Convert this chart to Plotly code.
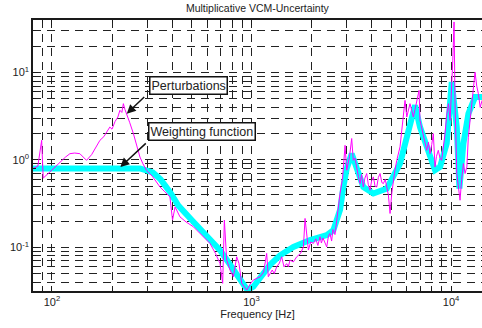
import math
import plotly.graph_objects as go

# Measured multiplicative uncertainty (perturbations), frequency in Hz
freq_pert = [80.5, 85, 88.8, 90.4, 97.7, 104, 110, 117, 123, 130, 138, 144, 149, 158, 166, 174,
             182, 188, 195, 200, 207, 214, 219, 224, 228, 232, 237, 245, 256, 265, 276, 286,
             298, 320, 348, 365, 390, 402, 414, 438, 470, 511, 560, 619, 660, 695, 717, 731,
             751, 780, 811, 843, 865, 893, 947, 985, 1021, 1060, 1103, 1150, 1191, 1214, 1270,
             1300, 1337, 1380, 1416, 1455, 1500, 1530, 1559, 1620, 1685, 1760, 1820, 1855, 1928,
             1980, 2043, 2100, 2150, 2205, 2240, 2280, 2330, 2382, 2430, 2473, 2520, 2560, 2620,
             2673, 2778, 2860, 2943, 3000, 3100, 3177, 3236, 3300, 3367, 3430, 3499, 3560, 3634,
             3700, 3777, 3850, 3925, 4000, 4080, 4160, 4243, 4320, 4408, 4500, 4581, 4680, 4762,
             4850, 4946, 5045, 5200, 5345, 5548, 5700, 5877, 5998, 6100, 6226, 6350, 6470, 6600,
             6730, 6913, 6990, 7262, 7400, 7550, 7700, 7850, 8000, 8150, 8310, 8450, 8630, 8800,
             8970, 9150, 9330, 9500, 9700, 9890, 10050, 10200, 10350, 10470, 10680, 10900,
             11090, 11300, 11530, 11750, 12000, 12200, 12450, 12800, 13190, 13450, 13700, 14000,
             14300]
mag_pert = [0.80, 0.85, 1.68, 0.62, 0.73, 0.84, 0.95, 1.08, 1.18, 1.20, 1.18, 1.08, 0.99, 1.15,
            1.40, 1.68, 1.85, 2.05, 2.38, 2.25, 2.75, 3.1, 3.70, 3.5, 4.41, 3.8, 3.39, 2.7, 2.00,
            1.55, 1.08, 0.90, 0.76, 0.64, 0.49, 0.44, 0.378, 0.205, 0.29, 0.223, 0.195, 0.172,
            0.14, 0.111, 0.085, 0.0655, 0.0387, 0.205, 0.0714, 0.055, 0.046, 0.078, 0.0655,
            0.0387, 0.0324, 0.038, 0.0422, 0.044, 0.046, 0.052, 0.0851, 0.046, 0.055,
            0.050, 0.0598, 0.066, 0.078, 0.0598, 0.065, 0.060, 0.0714, 0.068, 0.078, 0.085,
            0.101, 0.214, 0.093, 0.115, 0.111, 0.125, 0.105, 0.132, 0.112, 0.128, 0.115, 0.101,
            0.135, 0.144, 0.118, 0.16, 0.14, 0.205, 0.413, 0.62, 1.47, 0.763, 1.1, 1.76, 0.99,
            1.05, 0.763, 0.65, 0.537, 0.68, 0.491, 0.62, 0.70, 0.52, 0.45, 0.58, 0.64, 0.50,
            0.491, 0.63, 0.70, 0.55, 0.537, 0.60, 0.491, 0.40, 0.244, 0.413, 0.70, 0.99, 1.41,
            2.6, 4.81, 3.10, 3.6, 4.41, 3.7, 3.10, 3.8, 4.81, 6.26, 2.84, 2.00, 1.6, 1.29, 1.6,
            1.18, 1.5, 2.00, 0.832, 1.1, 1.29, 1.05, 0.99, 1.4, 2.00, 3.2, 4.41, 2.84, 5.5, 13.8,
            38.0, 4.41, 0.70, 0.5, 0.346, 0.6, 0.91, 0.7, 0.832, 1.8, 2.84, 5.0, 10.1, 7.0, 5.74,
            4.0, 4.81]

# Uncertainty weighting function, frequency in Hz
freq_wf = [80, 140, 220, 276, 320, 350, 390, 430, 511, 619, 695, 751, 843, 910, 953, 1021,
           1103, 1238, 1390, 1621, 1964, 2382, 2572, 2680, 2780, 2885, 3000, 3177, 3367, 3634,
           4080, 4762, 5548, 5877, 6350, 6600, 6990, 7550, 8310, 8810, 9510, 10080, 10680,
           11010, 11530, 12220, 13190, 14300]
mag_wf = [0.80, 0.80, 0.83, 0.80, 0.72, 0.60, 0.43, 0.30, 0.196, 0.126, 0.093, 0.072, 0.050,
          0.039, 0.0325, 0.0354, 0.044, 0.063, 0.081, 0.101, 0.121, 0.138, 0.157, 0.20, 0.27,
          0.49, 0.80, 1.18, 0.83, 0.49, 0.413, 0.47, 0.91, 1.54, 3.39, 4.22, 2.38, 1.41, 0.763,
          0.832, 1.54, 7.8, 2.38, 0.47, 1.54, 3.39, 5.25, 5.25]

# Decade tick labels and the in-between grid positions
x_major = [100, 1000, 10000]
x_major_text = ["10<sup>2</sup>", "10<sup>3</sup>", "10<sup>4</sup>"]
y_major = [0.1, 1, 10]
y_major_text = ["10<sup>-1</sup>", "10<sup>0</sup>", "10<sup>1</sup>"]
x_minor = [m * d for d in (10, 100, 1000, 10000) for m in range(2, 10)]
y_minor = [m * d for d in (0.01, 0.1, 1, 10) for m in range(2, 10)]

title_text = "Multiplicative VCM-Uncertainty"
x_title = "Frequency [Hz]"
label_pert = "Perturbations"
label_wf = "Weighting function"

AXIS = "#1a1a1a"
GRID = "#222222"
DASH = "8px,6px"
FONT = "Liberation Sans, Arial, sans-serif"

fig = go.Figure()
fig.add_trace(go.Scatter(x=freq_wf, y=mag_wf, mode="lines", name=label_wf,
                         line=dict(color="#00ffff", width=6)))
fig.add_trace(go.Scatter(x=freq_pert, y=mag_pert, mode="lines", name=label_pert,
                         line=dict(color="#ff00ff", width=1)))

axis_common = dict(
    type="log",
    showline=True, linecolor=AXIS, linewidth=1.5,
    showgrid=True, gridcolor=GRID, gridwidth=1, griddash=DASH,
    ticks="inside", ticklen=5, tickcolor=AXIS, tickwidth=1,
    tickmode="array",
    tickfont=dict(family=FONT, size=11, color="#222"),
    zeroline=False,
)
minor_common = dict(showgrid=True, gridcolor=GRID, gridwidth=1, griddash=DASH,
                    ticks="inside", ticklen=3, tickcolor=AXIS, tickmode="array")

fig.update_xaxes(**axis_common, tickvals=x_major, ticktext=x_major_text,
                 minor=dict(**minor_common, tickvals=x_minor),
                 range=[1.905, 4.155], mirror="allticks",
                 title=dict(text=x_title, font=dict(family=FONT, size=11, color="#222"),
                            standoff=2))
fig.update_yaxes(**axis_common, tickvals=y_major, ticktext=y_major_text,
                 minor=dict(**minor_common, tickvals=y_minor),
                 range=[-1.5, math.log10(40)], mirror=False)

# Text boxes with arrows pointing at the two curves
i_p = freq_pert.index(237)
i_w = freq_wf.index(220)
box = dict(showarrow=False, bgcolor="white", bordercolor="#111", borderwidth=1.5,
           borderpad=1, font=dict(family=FONT, size=12.5, color="#222"),
           xref="paper", yref="paper", xanchor="center", yanchor="middle")
fig.add_annotation(text=label_pert, x=0.3474, y=0.760, **box)
fig.add_annotation(text=label_wf, x=0.3764, y=0.588, **box)

arrow = dict(text="", showarrow=True, arrowhead=2, arrowsize=1.2, arrowwidth=1.5,
             arrowcolor="#111", axref="pixel", ayref="pixel")
fig.add_annotation(x=math.log10(freq_pert[i_p]), y=math.log10(mag_pert[i_p]),
                   ax=19, ay=-18, **arrow)
fig.add_annotation(x=math.log10(freq_wf[i_w]), y=math.log10(mag_wf[i_w]),
                   ax=27, ay=-25, **arrow)

fig.update_layout(
    width=482, height=328,
    margin=dict(l=33, r=0, t=20, b=37),
    paper_bgcolor="white", plot_bgcolor="white",
    showlegend=False,
    font=dict(family=FONT, size=11, color="#222"),
    title=dict(text=title_text, x=0.534, xanchor="center", y=1 - 8 / 328, yanchor="middle",
               font=dict(family=FONT, size=10.5, color="#222")),
)

fig.write_html("out.html")
